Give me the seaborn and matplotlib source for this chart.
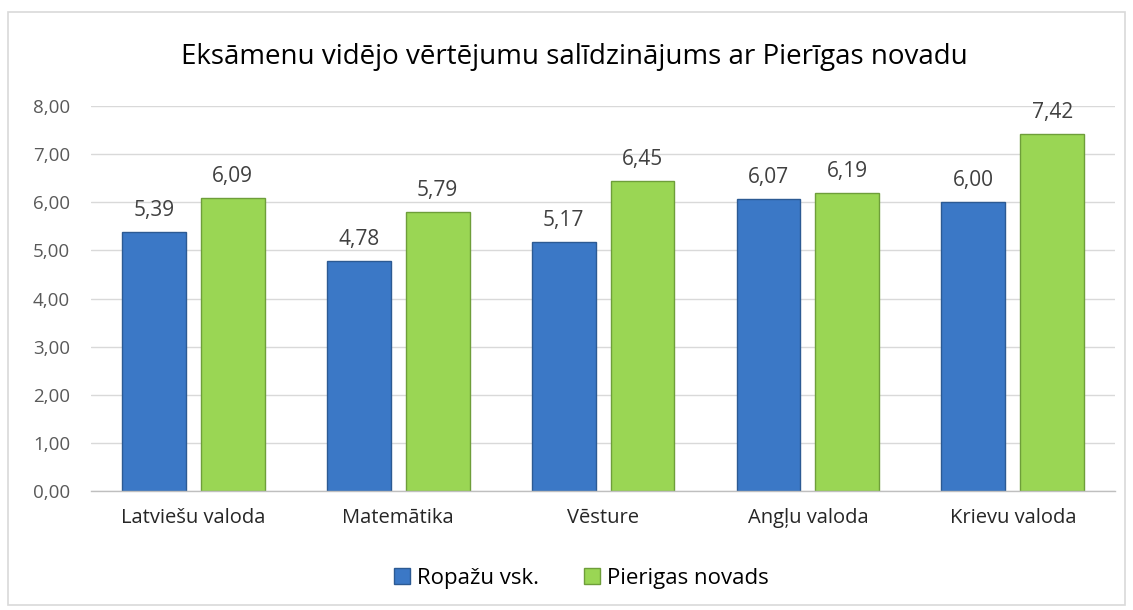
import matplotlib
matplotlib.use("Agg")
import matplotlib.pyplot as plt
import seaborn as sns
import pandas as pd
from matplotlib.patches import Rectangle

categories = ["Latviešu valoda", "Matemātika", "Vēsture", "Angļu valoda", "Krievu valoda"]
series_names = ["Ropažu vsk.", "Pierigas novads"]
ropazi = [5.39, 4.78, 5.17, 6.07, 6.00]
pieriga = [6.09, 5.79, 6.45, 6.19, 7.42]
yticks = [0, 1, 2, 3, 4, 5, 6, 7, 8]
title = "Eksāmenu vidējo vērtējumu salīdzinājums ar Pierīgas novadu"

df = pd.DataFrame({
    "cat": categories * 2,
    "series": [series_names[0]] * len(categories) + [series_names[1]] * len(categories),
    "value": ropazi + pieriga,
})

sns.set_theme(style="white")
plt.rcParams["font.family"] = ["Open Sans", "DejaVu Sans"]

fig = plt.figure(figsize=(11.33, 6.10), dpi=100)
ax = fig.add_axes([0.0803, 0.195, 0.904, 0.631])

colors = ["#3B78C6", "#9AD654"]
edges = ["#2C5A93", "#6E9E3A"]
sns.barplot(data=df, x="cat", y="value", hue="series", palette=colors,
            width=0.77, gap=0.19, ax=ax, legend=False, saturation=1)

for i, container in enumerate(ax.containers):
    for bar in container:
        bar.set_edgecolor(edges[i])
        bar.set_linewidth(1.0)
    ax.bar_label(container, labels=[f"{v:.2f}".replace(".", ",") for v in container.datavalues],
                 padding=8, fontsize=15, color="#404040")

ax.set_ylim(0, 8)
ax.set_xlim(-0.5, len(categories) - 0.5)
ax.set_yticks(yticks)
ax.set_yticklabels([f"{t:.2f}".replace(".", ",") for t in yticks], fontsize=13.5, color="#595959")
ax.tick_params(axis="x", labelsize=14.5, colors="#262626", length=0, pad=12)
ax.tick_params(axis="y", length=0, pad=15)
ax.set_xlabel("")
ax.set_ylabel("")
ax.yaxis.grid(True, color="#d9d9d9", linewidth=1)
ax.set_axisbelow(True)
for s in ["top", "right", "left"]:
    ax.spines[s].set_visible(False)
ax.spines["bottom"].set_color("#bfbfbf")
ax.spines["bottom"].set_linewidth(1)

fig.text(0.507, 0.906, title, ha="center", va="center", fontsize=20, color="#000000")

handles = [Rectangle((0, 0), 1, 1, facecolor=colors[i], edgecolor=edges[i]) for i in range(2)]
fig.legend(handles, series_names, loc="center", bbox_to_anchor=(0.513, 0.052), ncol=2,
           frameon=False, fontsize=16, handlelength=0.75, handleheight=0.75,
           handletextpad=0.3, columnspacing=2.0, labelcolor="#000000")

border = Rectangle((8 / 1133, 5 / 610), 1117 / 1133, 593 / 610, transform=fig.transFigure,
                   fill=False, edgecolor="#d9d9d9", linewidth=1.2)
fig.patches.append(border)

fig.savefig("out.png", dpi=100)
